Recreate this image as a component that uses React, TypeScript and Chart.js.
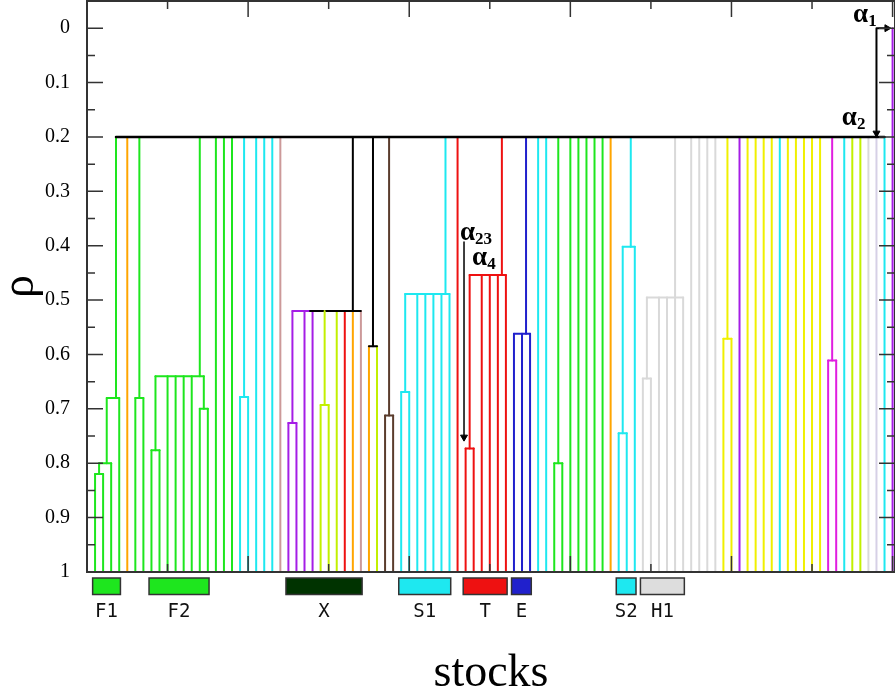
import React, { useEffect, useRef } from 'react';
import { Chart, registerables } from 'chart.js';
Chart.register(...registerables);

const SERIF = "'Liberation Serif', 'Times New Roman', serif";
const MONO = "'DejaVu Sans Mono', monospace";

const palette: Record<string, string> = {
  g: '#1ee61e', o: '#ffa500', c: '#1ee8f0', rb: '#cc9999', p: '#a51ee6',
  yg: '#c2f000', r: '#ee1111', br: '#5a3c2c', b: '#2020cc', gr: '#d9d9d9',
  y: '#f0f000', m: '#e01ee0', lv: '#d6d0e6', k: '#000000',
};

// leaf colours, leaves 1..100
const leafColors = [
  'g', 'g', 'g', 'g', 'o', 'g', 'g', 'g', 'g', 'g',
  'g', 'g', 'g', 'g', 'g', 'g', 'g', 'g', 'c', 'c',
  'c', 'c', 'c', 'rb', 'p', 'p', 'p', 'p', 'yg', 'yg',
  'yg', 'r', 'o', 'rb', 'o', 'yg', 'br', 'br', 'c', 'c',
  'c', 'c', 'c', 'c', 'c', 'r', 'r', 'r', 'r', 'r',
  'r', 'r', 'b', 'b', 'b', 'c', 'c', 'g', 'g', 'g',
  'g', 'g', 'g', 'g', 'o', 'c', 'c', 'c', 'gr', 'gr',
  'gr', 'gr', 'gr', 'gr', 'gr', 'gr', 'gr', 'gr', 'y', 'y',
  'p', 'y', 'y', 'y', 'y', 'c', 'y', 'y', 'y', 'y',
  'y', 'm', 'm', 'c', 'yg', 'yg', 'gr', 'lv', 'c', 'p',
];

// rho at which each leaf joins its first cluster
const leafTops = [
  0.82, 0.82, 0.80, 0.68, 0.2, 0.68, 0.68, 0.776, 0.776, 0.64,
  0.64, 0.64, 0.64, 0.70, 0.70, 0.2, 0.2, 0.2, 0.678, 0.678,
  0.2, 0.2, 0.2, 0.2, 0.726, 0.726, 0.52, 0.52, 0.693, 0.693,
  0.52, 0.52, 0.52, 0.52, 0.585, 0.585, 0.712, 0.712, 0.669, 0.669,
  0.489, 0.489, 0.489, 0.489, 0.489, 0.2, 0.773, 0.773, 0.454, 0.454,
  0.454, 0.454, 0.562, 0.562, 0.562, 0.2, 0.2, 0.80, 0.80, 0.2,
  0.2, 0.2, 0.2, 0.2, 0.2, 0.745, 0.745, 0.402, 0.644, 0.644,
  0.495, 0.495, 0.495, 0.495, 0.2, 0.2, 0.2, 0.2, 0.571, 0.571,
  0.2, 0.2, 0.2, 0.2, 0.2, 0.2, 0.2, 0.2, 0.2, 0.2,
  0.2, 0.611, 0.611, 0.2, 0.2, 0.2, 0.2, 0.2, 0.2, 0.0,
];

// merges: [from, to, rho, link position, rho of parent, colour]
const merges: [number, number, number, number | null, number, string][] = [
  [1, 2, 0.82, 1.5, 0.80, 'g'],
  [1.5, 3, 0.80, 2.45, 0.68, 'g'],
  [2.45, 4, 0.68, 3.6, 0.2, 'g'],
  [6, 7, 0.68, 6.5, 0.2, 'g'],
  [8, 9, 0.776, 8.5, 0.64, 'g'],
  [14, 15, 0.70, 14.5, 0.64, 'g'],
  [8.5, 14.5, 0.64, 14, 0.2, 'g'],
  [19, 20, 0.678, 19.5, 0.2, 'c'],
  [25, 26, 0.726, 25.5, 0.52, 'p'],
  [29, 30, 0.693, 29.5, 0.52, 'yg'],
  [25.5, 27.5, 0.52, null, 0.52, 'p'],
  [27.5, 34, 0.52, 33, 0.2, 'k'],
  [35, 36, 0.585, 35.5, 0.2, 'k'],
  [37, 38, 0.712, 37.5, 0.2, 'br'],
  [39, 40, 0.669, 39.5, 0.489, 'c'],
  [39.5, 45, 0.489, 44.5, 0.2, 'c'],
  [47, 48, 0.773, 47.5, 0.454, 'r'],
  [47.5, 52, 0.454, 51.5, 0.2, 'r'],
  [53, 55, 0.562, 54.5, 0.2, 'b'],
  [58, 59, 0.80, 58.5, 0.2, 'g'],
  [66, 67, 0.745, 66.5, 0.402, 'c'],
  [66.5, 68, 0.402, 67.5, 0.2, 'c'],
  [69, 70, 0.644, 69.5, 0.495, 'gr'],
  [69.5, 74, 0.495, 73, 0.2, 'gr'],
  [79, 80, 0.571, 79.5, 0.2, 'y'],
  [92, 93, 0.611, 92.5, 0.2, 'm'],
];

// main level at rho = 0.2
const topBar = { from: 3.6, to: 99, rho: 0.2 };

// y ticks
const yTickValues = [0, 0.1, 0.2, 0.3, 0.4, 0.5, 0.6, 0.7, 0.8, 0.9, 1];
const yTickLabels = ['0', '0.1', '0.2', '0.3', '0.4', '0.5', '0.6', '0.7', '0.8', '0.9', '1'];

// sector groups
const groupNames = ['F1', 'F2', 'X', 'S1', 'T', 'E', 'S2', 'H1'];
const groupFirst = [1, 8, 25, 39, 47, 53, 66, 69];
const groupLast = [4, 15, 34, 45, 52, 55, 68, 74];
const groupColors = ['#1ee61e', '#1ee61e', '#003300', '#1ee8f0', '#ee1111', '#2020cc', '#1ee8f0', '#dddddd'];

// alpha annotations
const alphaSubs = ['1', '2', '23', '4'];
const alphaX = [95.1, 93.7, 46.3, 47.8];
const alphaY = [-0.012, 0.178, 0.389, 0.436];

// arrows
const alpha2Path = [{ x: 98, y: 0.2 }, { x: 98, y: 0 }, { x: 99.3, y: 0 }];
const alpha23Path = [{ x: 46.8, y: 0.393 }, { x: 46.8, y: 0.752 }];

const framePlugin = {
  id: 'frameAndLabels',
  afterDraw(chart: any) {
    const { ctx, chartArea } = chart;
    const { left, right, top, bottom } = chartArea;
    const xs = chart.scales.x;
    const ys = chart.scales.y;
    ctx.save();
    // ticks
    ctx.strokeStyle = '#333';
    ctx.lineWidth = 1.5;
    ctx.beginPath();
    for (let i = 0; i <= 20; i++) {
      const py = ys.getPixelForValue(i * 0.05);
      const len = i % 2 === 0 ? 16 : 8;
      ctx.moveTo(left, py); ctx.lineTo(left + len, py);
      ctx.moveTo(right - len, py); ctx.lineTo(right, py);
    }
    for (let v = 10; v <= 100; v += 10) {
      const px = xs.getPixelForValue(v);
      const len = v % 20 === 0 ? 16 : 8;
      ctx.moveTo(px, bottom); ctx.lineTo(px, bottom - len);
      ctx.moveTo(px, top); ctx.lineTo(px, top + len);
    }
    ctx.stroke();
    // frame
    ctx.lineWidth = 2;
    ctx.strokeRect(left, top, right - left, bottom - top);

    // groups
    groupNames.forEach((name, i) => {
      const x1 = xs.getPixelForValue(groupFirst[i] - 0.3);
      const x2 = xs.getPixelForValue(groupLast[i] + 0.15);
      ctx.fillStyle = groupColors[i];
      ctx.fillRect(x1, bottom + 6, x2 - x1, 16.5);
      ctx.strokeStyle = '#333';
      ctx.lineWidth = 1.5;
      ctx.strokeRect(x1, bottom + 6, x2 - x1, 16.5);
      ctx.fillStyle = '#111';
      ctx.font = `19px ${MONO}`;
      ctx.textAlign = 'center';
      ctx.textBaseline = 'middle';
      ctx.fillText(name, (x1 + x2) / 2, bottom + 40);
    });

    // alpha labels
    ctx.fillStyle = '#000';
    ctx.textAlign = 'left';
    ctx.textBaseline = 'alphabetic';
    alphaSubs.forEach((sub, i) => {
      const px = xs.getPixelForValue(alphaX[i]);
      const py = ys.getPixelForValue(alphaY[i]);
      ctx.font = `bold 27px ${SERIF}`;
      ctx.fillText('α', px, py);
      const w = ctx.measureText('α').width;
      ctx.font = `bold 17px ${SERIF}`;
      ctx.fillText(sub, px + w, py + 4);
    });
    ctx.restore();
  },
};

function buildDatasets() {
  const ds: any[] = [];
  const line = (pts: { x: number; y: number }[], color: string, width: number, order: number) => ({
    data: pts,
    showLine: true,
    borderColor: color,
    backgroundColor: color,
    borderWidth: width,
    pointRadius: 0,
    borderCapStyle: 'round',
    borderJoinStyle: 'round',
    order,
  });
  leafTops.forEach((t, i) => {
    ds.push(line([{ x: i + 1, y: 1 }, { x: i + 1, y: t }], palette[leafColors[i]], 2, 4));
  });
  merges.forEach(([a, b, rho, upX, upTo, c]) => {
    ds.push(line([{ x: a, y: rho }, { x: b, y: rho }], palette[c], 2, 3));
    if (upX !== null) ds.push(line([{ x: upX, y: rho }, { x: upX, y: upTo }], palette[c], 2, 3));
  });
  ds.push(line([{ x: topBar.from, y: topBar.rho }, { x: topBar.to, y: topBar.rho }], '#000', 2.5, 2));
  ds.push(line(alpha2Path, '#000', 2, 1));
  ds.push(line(alpha23Path, '#000', 1.5, 1));
  const head = (x: number, y: number, rot: number) => ({
    data: [{ x, y }],
    showLine: false,
    pointStyle: 'triangle',
    pointRadius: 4,
    pointRotation: rot,
    backgroundColor: '#000',
    borderColor: '#000',
    borderWidth: 1,
    order: 0,
  });
  ds.push(head(alpha23Path[1].x, alpha23Path[1].y, 180));
  ds.push(head(alpha2Path[0].x, alpha2Path[0].y - 0.007, 180));
  ds.push(head(alpha2Path[2].x, alpha2Path[2].y, 90));
  return ds;
}

export default function App() {
  const ref = useRef<HTMLCanvasElement | null>(null);
  useEffect(() => {
    if (!ref.current) return;
    const chart = new Chart(ref.current, {
      type: 'scatter',
      data: { datasets: buildDatasets() },
      options: {
        animation: false,
        responsive: false,
        events: [],
        layout: { autoPadding: false, padding: { top: 1, left: 0, right: 0, bottom: 0 } },
        plugins: { legend: { display: false }, tooltip: { enabled: false } },
        scales: {
          x: {
            type: 'linear', min: 0, max: 100.3, position: 'bottom',
            grid: { display: false }, border: { display: false },
            ticks: { display: false },
            title: { display: true, text: 'stocks', color: '#000', padding: 0, font: { family: SERIF, size: 46, lineHeight: 0.78 } },
            afterFit: (s: any) => { s.height = 120; s.paddingLeft = 0; s.paddingRight = 0; },
          },
          y: {
            type: 'linear', min: -0.05, max: 1, reverse: true, position: 'left',
            grid: { display: false }, border: { display: false },
            ticks: {
              color: '#000', padding: 9, autoSkip: false,
              font: { family: SERIF, size: 20 },
              callback: (_v: any, i: number) => yTickLabels[i],
            },
            afterBuildTicks: (s: any) => { s.ticks = yTickValues.map((v) => ({ value: v })); },
            title: { display: true, text: 'ρ', color: '#000', padding: 0, font: { family: SERIF, size: 46, lineHeight: 0.91 } },
            afterFit: (s: any) => { s.width = 87; s.paddingTop = 0; s.paddingBottom = 0; },
          },
        },
      } as any,
      plugins: [framePlugin],
    });
    return () => chart.destroy();
  }, []);
  return (
    <canvas
      ref={ref}
      width={895}
      height={692}
      style={{ position: 'absolute', left: 0, top: 0, width: '895px', height: '692px', background: '#fff' }}
    />
  );
}
